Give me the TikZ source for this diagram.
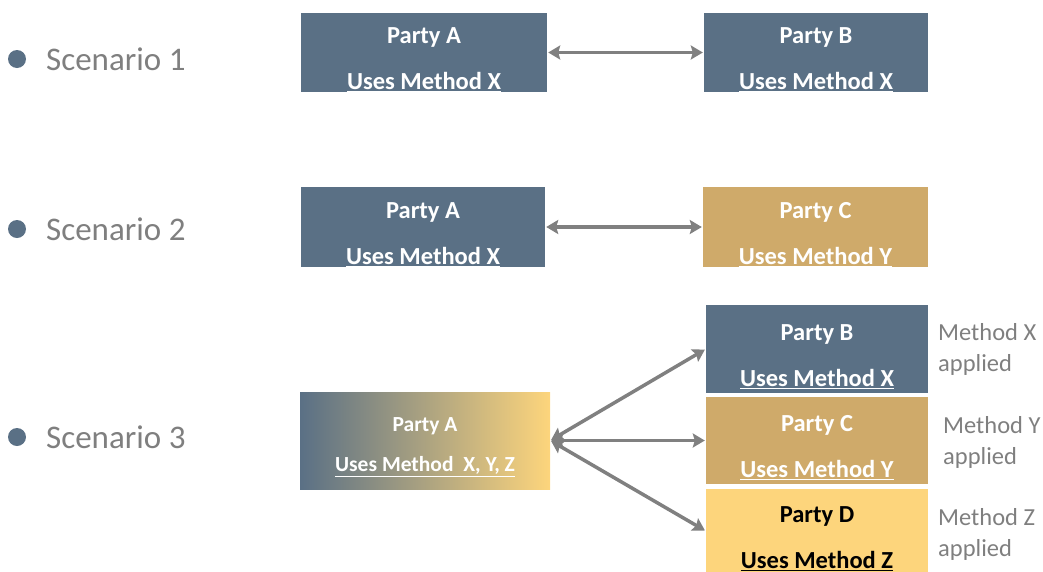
\documentclass[tikz,border=0pt]{standalone}
\usepackage{fontspec}
\setmainfont{Carlito}
\usetikzlibrary{arrows.meta}

\definecolor{slate}{HTML}{5A7085}
\definecolor{tan}{HTML}{CFAA6A}
\definecolor{gold}{HTML}{FDD57C}
\definecolor{greytext}{HTML}{7F7F7F}
\definecolor{linkgrey}{HTML}{808080}

\newcommand{\partylines}[2]{\rule{0pt}{1.25em}#1\\\underline{#2}}

\begin{document}
\begin{tikzpicture}[x=1pt, y=-1pt, >=Stealth,
	party/.style={rectangle, fill=slate, text=white, inner sep=0pt, align=center,
		font=\bfseries\fontsize{24.5}{46}\selectfont},
	link/.style={<->, line width=3.5pt, draw=linkgrey, shorten <=1pt, shorten >=1pt,
		>={Stealth[length=12pt, width=14pt, inset=2pt]}},
	scen/.style={anchor=west, text=greytext, inner sep=0pt, font=\fontsize{33}{36}\selectfont},
	note/.style={anchor=north west, text=greytext, inner sep=0pt, align=left,
		font=\fontsize{24.5}{31}\selectfont}]
	\useasboundingbox (0,0) rectangle (1043,571);

	% Scenario labels
	\foreach \n/\y in {1/59, 2/229, 3/437} {
		\fill[slate] (17,\y) circle (9);
		\node[scen] (s\n) at (46,\y) {Scenario \n};
	}

	% Scenario 1
	\node[party, minimum width=246, minimum height=79] (a1) at (424,52.5)
		{\partylines{Party A}{Uses Method X}};
	\node[party, minimum width=224, minimum height=79] (b1) at (816,52.5)
		{\partylines{Party B}{Uses Method X}};
	\draw[link] (a1) -- (b1);

	% Scenario 2
	\node[party, minimum width=244, minimum height=80] (a2) at (423,227)
		{\partylines{Party A}{Uses Method X}};
	\node[party, fill=tan, minimum width=225, minimum height=80] (c2) at (815.5,227)
		{\partylines{Party C}{Uses Method Y}};
	\draw[link] (a2) -- (c2);

	% Scenario 3
	\node[party, left color=slate, right color=gold, minimum width=250, minimum height=97,
		font=\bfseries\fontsize{21.5}{40}\selectfont] (a3) at (425,440.5)
		{\partylines{Party A}{Uses Method~~X, Y, Z}};
	\node[party, minimum width=222, minimum height=88] (b3) at (817,349)
		{\partylines{Party B}{Uses Method X}};
	\node[party, fill=tan, minimum width=222, minimum height=87] (c3) at (817,440.5)
		{\partylines{Party C}{Uses Method Y}};
	\node[party, fill=gold, text=black, minimum width=222, minimum height=84] (d3) at (817,531)
		{\partylines{Party D}{Uses Method Z}};
	\draw[link] (a3.east) -- (b3.west);
	\draw[link] (a3.east) -- (c3.west);
	\draw[link] (a3.east) -- (d3.west);

	% side notes
	\node[note] (nx) at (938,323) {Method X\\applied};
	\node[note] (ny) at (943,416) {Method Y\\applied};
	\node[note] (nz) at (938,508) {Method Z\\applied};
\end{tikzpicture}
\end{document}
